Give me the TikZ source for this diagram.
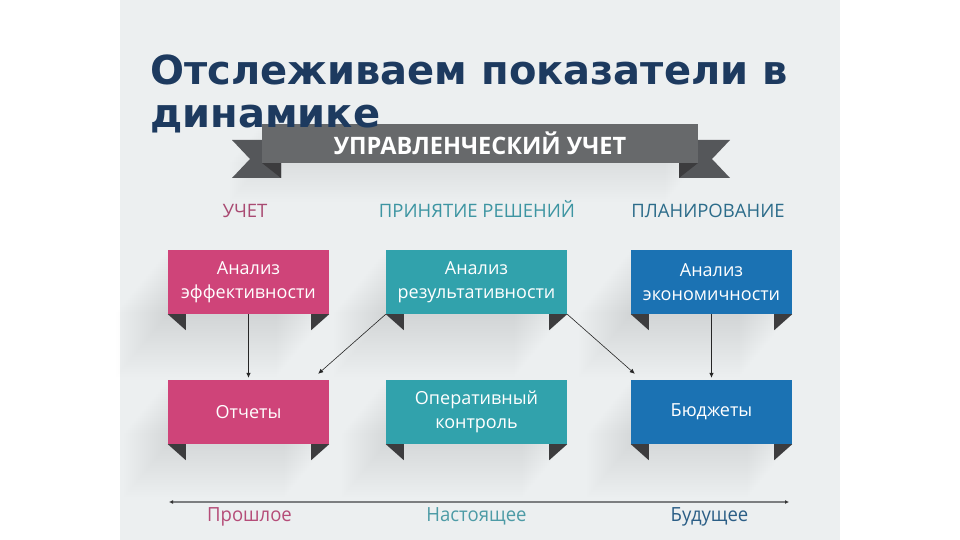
\documentclass[tikz,border=0pt]{standalone}
\usepackage{fontspec}
\setmainfont{Open Sans}
\newfontfamily\titlefam{DejaVu Sans}
\newfontfamily\condfam{Open Sans}[FakeStretch=0.95]
\newfontfamily\condbold{Open Sans}[FakeStretch=0.98,UprightFont=* Bold]
\usetikzlibrary{arrows.meta,calc}
\definecolor{panelbg}{HTML}{ECEFF0}
\definecolor{titleblue}{HTML}{1D3A5F}
\definecolor{pinkbox}{HTML}{CF4479}
\definecolor{tealbox}{HTML}{31A2AC}
\definecolor{bluebox}{HTML}{1B72B3}
\definecolor{foldgray}{HTML}{3C3C3E}
\definecolor{bandgray}{HTML}{67696B}
\definecolor{tailgray}{HTML}{55575A}
\definecolor{headpink}{HTML}{A94A72}
\definecolor{headteal}{HTML}{3D95A2}
\definecolor{headblue}{HTML}{2C6C8A}
\definecolor{labpink}{HTML}{B54C78}
\definecolor{labteal}{HTML}{4D9BA6}
\definecolor{labblue}{HTML}{2B5E86}
\definecolor{linegray}{HTML}{7C7E80}
\newcommand\longshade[2]{%
  \foreach \i in {1,...,#2}{%
    \fill[black,opacity=0.003] ($(#1.north west)+(-\i*2.0,\i*2.4)$) rectangle ($(#1.south east)+(-\i*2.0,\i*2.4)$);
  }}
\newcommand\folds[1]{%
  \fill[foldgray] (#1.south west) -- ++(18,0) -- ++(0,16) -- cycle;
  \fill[foldgray] (#1.south east) -- ++(-18,0) -- ++(0,16) -- cycle;}
\tikzset{
  cardbox/.style={minimum height=64pt, inner sep=0pt, text=white, align=center,
    font=\fontsize{18}{24}\selectfont},
  headtext/.style={anchor=base, font=\fontsize{18.5}{20}\selectfont},
  labtext/.style={anchor=base, font=\condfam\fontsize{19.5}{22}\selectfont},
  link/.style={draw=black!85, line width=0.6pt, -{Latex[length=5pt,width=4.5pt]}},
  timetip/.tip={Latex[length=4pt,width=4pt,color=black!80]},
}
\begin{document}
\begin{tikzpicture}[x=1pt,y=-1pt]
\useasboundingbox (0,0) rectangle (960,540);
\fill[white] (0,0) rectangle (960,540);
\fill[panelbg] (120,0) rectangle (840,540);

% banner
\node[minimum width=436pt, minimum height=39pt, inner sep=0pt] (banner) at (480,143.5) {};
\longshade{banner}{16}
\fill[tailgray] (232,140) -- (281,140) -- (281,178) -- (232,178) -- (250,159) -- cycle;
\fill[tailgray] (679,140) -- (730,140) -- (712,159) -- (730,178) -- (679,178) -- cycle;
\fill[foldgray] (262,163) -- (281,163) -- (281,178) -- cycle;
\fill[foldgray] (698,163) -- (679,163) -- (679,178) -- cycle;
\node[fill=bandgray, minimum width=436pt, minimum height=39pt, inner sep=0pt, text=white,
  font=\condbold\fontsize{24}{26}\selectfont] (bannertext) at (480,143.5) {УПРАВЛЕНЧЕСКИЙ УЧЕТ};

% title
\node[anchor=base west, inner sep=0pt, text=titleblue, font=\titlefam\bfseries\fontsize{40}{44}\selectfont] (title1) at (150,85) {Отслеживаем показатели в};
\node[anchor=base west, inner sep=0pt, text=titleblue, font=\titlefam\bfseries\fontsize{40}{44}\selectfont] (title2) at (150,128) {динамике};

% headings
\node[headtext, text=headpink] (h1) at (245,217) {УЧЕТ};
\node[headtext, text=headteal] (h2) at (477,217) {ПРИНЯТИЕ РЕШЕНИЙ};
\node[headtext, text=headblue] (h3) at (708,217) {ПЛАНИРОВАНИЕ};

% box geometry (nodes first for shadows)
\path (248.5,282) node[cardbox, minimum width=161pt] (p1) {}
      (476.5,282) node[cardbox, minimum width=181pt] (t1) {}
      (711.5,282) node[cardbox, minimum width=161pt] (b1) {}
      (248.5,412) node[cardbox, minimum width=161pt] (p2) {}
      (476.5,412) node[cardbox, minimum width=181pt] (t2) {}
      (711.5,412) node[cardbox, minimum width=161pt] (b2) {};
\longshade{p1}{26}\longshade{t1}{26}\longshade{b1}{26}
\longshade{p2}{22}\longshade{t2}{22}\longshade{b2}{22}
\folds{p1}\folds{t1}\folds{b1}\folds{p2}\folds{t2}\folds{b2}

\node[cardbox, minimum width=161pt, fill=pinkbox] (p1t) at (p1) {Анализ\\эффективности};
\node[cardbox, minimum width=181pt, fill=tealbox] (t1t) at (t1) {Анализ\\результативности};
\node[cardbox, minimum width=161pt, fill=bluebox] (b1t) at (b1) {Анализ\\экономичности};
\node[cardbox, minimum width=161pt, fill=pinkbox] (p2t) at (p2) {Отчеты};
\node[cardbox, minimum width=181pt, fill=tealbox] (t2t) at (t2) {Оперативный\\контроль};
\node[cardbox, minimum width=161pt, fill=bluebox] (b2t) at (b2) {Бюджеты};

% connectors
\coordinate (pend) at ($(p2.north east)+(-11,-6)$);
\coordinate (bend) at ($(b2.north west)+(4,-6)$);
\draw[link, shorten >=2pt] (p1.south) -- (p2.north);
\draw[link, shorten >=2pt] (b1.south) -- (b2.north);
\draw[link] (t1.south west) -- (pend);
\draw[link] (t1.south east) -- (bend);

% timeline
\coordinate (tl) at (169,502);
\coordinate (tr) at (789,502);
\draw[draw=linegray, line width=2pt, timetip-timetip] (tl) -- (tr);
\node[labtext, text=labpink] (past) at (249.5,521) {Прошлое};
\node[labtext, text=labteal] (now) at (476.5,521) {Настоящее};
\node[labtext, text=labblue] (fut) at (709.5,521) {Будущее};
\end{tikzpicture}
\end{document}
